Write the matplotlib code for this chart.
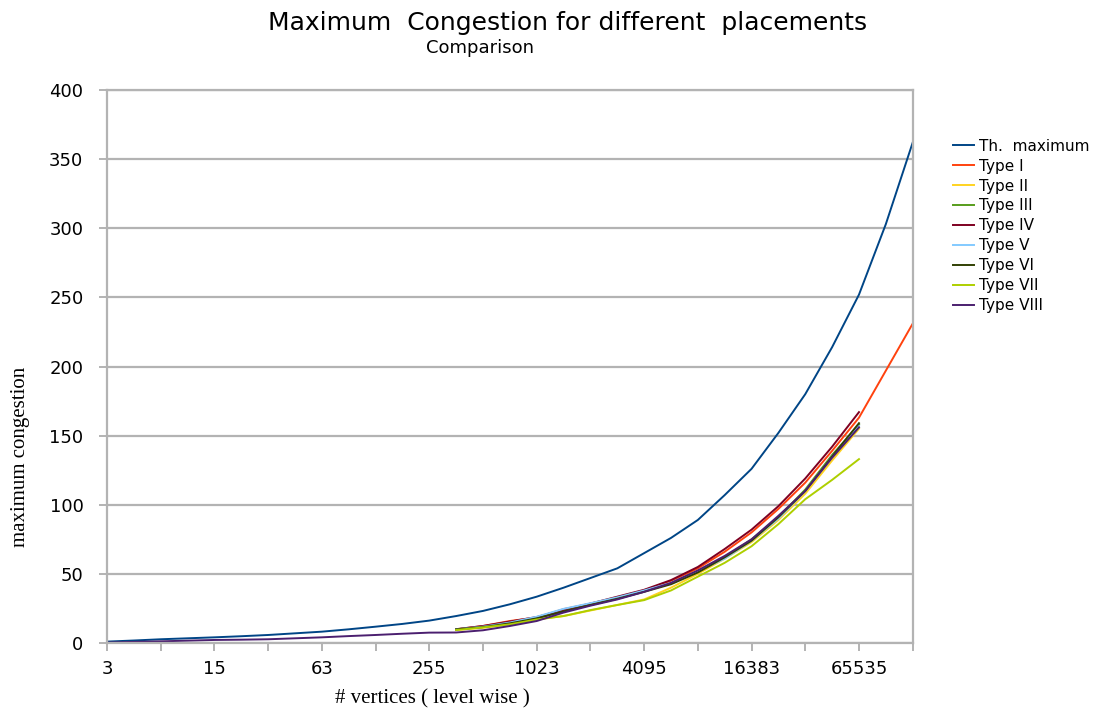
import matplotlib.pyplot as plt

plt.rcParams['font.family'] = ['DejaVu Sans']

# niveles del árbol (posición en eje x), de 3 vértices a 131071
level = [2, 2.5, 3, 3.5, 4, 4.5, 5, 5.5, 6, 6.5, 7, 7.5, 8, 8.5, 9, 9.5,
         10, 10.5, 11, 11.5, 12, 12.5, 13, 13.5, 14, 14.5, 15, 15.5, 16, 16.5, 17]
tick_levels = [2, 3, 4, 5, 6, 7, 8, 9, 10, 11, 12, 13, 14, 15, 16, 17]
tick_labels = ['3', '', '15', '', '63', '', '255', '', '1023', '', '4095', '',
               '16383', '', '65535', '']

th_max = [1, 1.8, 2.7, 3.4, 4.1, 4.9, 5.8, 7, 8.2, 9.9, 11.8, 13.8, 16.2, 19.5,
          23.2, 28, 33.5, 40, 47, 54, 65, 76, 89, 107, 126, 152, 180, 214, 252,
          303, 362]

# Tipos I-VII empiezan en el nivel 8.5
type1 = [9.9, 12.3, 15.9, 18.5, 24.5, 28.5, 33, 38, 45, 54, 66, 80, 97, 116,
         139, 163, 197, 231]
type2 = [9.4, 11, 13.5, 17, 19.5, 23.5, 27.5, 31.5, 40, 50, 61, 73, 89, 108, 132, 155]
type3 = [9.9, 11.8, 14.5, 18, 23, 27.5, 32, 37.5, 43, 52, 62, 75, 91, 111, 136, 158]
type4 = [10, 12.3, 15.5, 18.8, 24, 28.5, 33.5, 38.5, 45.5, 55, 68, 82, 99, 119, 142, 167]
type5 = [9.9, 11.8, 14.8, 19, 24.7, 28.8, 33, 38, 43.5, 52, 61, 74, 90, 110, 135, 157]
type6 = [9.9, 11.5, 14.2, 17.8, 22.8, 27.5, 32, 37, 42.5, 51, 62, 74, 91, 110, 135, 159]
type7 = [9.4, 11.3, 13.5, 17, 19.5, 23.8, 27.5, 31, 38, 48, 58, 70, 86, 104, 118, 133]
# Tipo VIII empieza en el nivel 2
type8 = [0.3, 0.8, 1.2, 1.7, 2.2, 2.4, 2.7, 3.4, 4.1, 5, 5.8, 6.7, 7.5, 7.6, 9.2,
         12.3, 15.9, 22, 27, 31.5, 37, 43.5, 52.5, 63, 75, 92, 110, 134, 156]

series = [
    ('Th.  maximum', th_max, '#004586'),
    ('Type I', type1, '#ff420e'),
    ('Type II', type2, '#ffd320'),
    ('Type III', type3, '#579d1c'),
    ('Type IV', type4, '#7e0021'),
    ('Type V', type5, '#83caff'),
    ('Type VI', type6, '#314004'),
    ('Type VII', type7, '#aecf00'),
    ('Type VIII', type8, '#4b1f6f'),
]

fig = plt.figure(figsize=(10.97, 7.11), dpi=100)
ax = fig.add_axes([107 / 1097, 1 - 643 / 711, (912.7 - 107) / 1097, (643 - 90) / 711])

for name, vals, col in series:
    if name == 'Type VIII':
        xs = level[:len(vals)]
    elif name == 'Th.  maximum':
        xs = level
    else:
        xs = level[13:13 + len(vals)]
    ax.plot(xs, vals, color=col, lw=1.4, label=name)

ax.set_xlim(2, 17)
ax.set_ylim(0, 400)
ax.set_yticks(range(0, 401, 50))
ax.set_xticks(tick_levels)
ax.set_xticklabels(tick_labels)
ax.grid(axis='y', color='#b3b3b3', lw=1.6)
ax.set_axisbelow(True)
for s in ax.spines.values():
    s.set_color('#b3b3b3')
    s.set_linewidth(1.6)
ax.tick_params(axis='both', colors='#b3b3b3', length=6, width=1.4, labelsize=13,
               labelcolor='black')
ax.tick_params(axis='x', pad=6)
ax.tick_params(axis='y', pad=11)

fig.text(0.517, 0.967, 'Maximum  Congestion for different  placements',
         ha='center', va='center', fontsize=18)
fig.text(0.438, 0.932, 'Comparison', ha='center', va='center', fontsize=13)
fig.text(0.019, 0.357, 'maximum congestion', rotation=90, ha='center', va='center',
         fontsize=15, family='Liberation Serif')
fig.text(0.394, 0.017, '# vertices ( level wise )', ha='center', va='center',
         fontsize=15, family='Liberation Serif')

fig.legend(loc='upper left', bbox_to_anchor=(939 / 1097, 1 - 125 / 711), frameon=False,
           fontsize=11, labelspacing=0.32, handlelength=1.4, handletextpad=0.3)

fig.savefig('out.png', dpi=100)
